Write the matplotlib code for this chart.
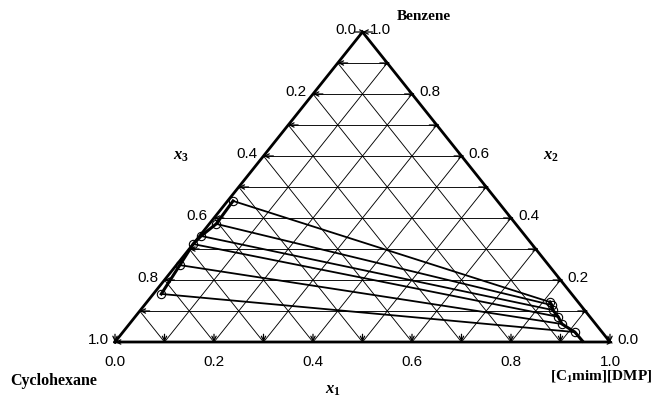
import matplotlib
matplotlib.use("Agg")
import matplotlib.pyplot as plt
import numpy as np

plt.rcParams['mathtext.fontset'] = 'custom'
plt.rcParams['mathtext.rm'] = 'Liberation Serif:bold'
plt.rcParams['mathtext.it'] = 'Liberation Serif:italic:bold'
plt.rcParams['mathtext.bf'] = 'Liberation Serif:bold'

# Tie-line end compositions (x1 = [C1mim][DMP], x2 = benzene)
raff_x1 = [0.011, 0.014, 0.003, 0.000, 0.007, 0.016]
raff_x2 = [0.455, 0.381, 0.342, 0.316, 0.248, 0.155]
ext_x1 = [0.814, 0.823, 0.833, 0.855, 0.874, 0.913]
ext_x2 = [0.129, 0.119, 0.103, 0.081, 0.058, 0.032]

# Extract-side phase boundary continues down to the binary axis
ext_curve_x1 = ext_x1 + [0.943]
ext_curve_x2 = ext_x2 + [0.003]

tick_values = [0.0, 0.2, 0.4, 0.6, 0.8, 1.0]
tick_labels = ["0.0", "0.2", "0.4", "0.6", "0.8", "1.0"]


def tern(x1, x2):
    x1 = np.asarray(x1, dtype=float)
    x2 = np.asarray(x2, dtype=float)
    return x1 + 0.5 * x2, x2


fig = plt.figure(figsize=(6.54, 4.0), dpi=100)
ax = fig.add_axes([0, 0, 1, 1])
ax.set_xlim(-115 / 495, (654 - 115) / 495)
ax.set_ylim(-58 / 310, (400 - 58) / 310)
ax.axis('off')

# Grid every 0.1 in the three composition directions
for k in range(1, 10):
    v = k / 10
    for a, b in (((0, v), (1 - v, v)), ((v, 0), (v, 1 - v)), ((1 - v, 0), (0, 1 - v))):
        X, Y = tern([a[0], b[0]], [a[1], b[1]])
        ax.plot(X, Y, color='black', lw=0.65, zorder=1)

# Triangle edges
X, Y = tern([0, 1, 0, 0], [0, 0, 1, 0])
ax.plot(X, Y, color='black', lw=2.0, solid_joinstyle='miter', zorder=3)

# Arrow-shaped ticks
arrow = dict(arrowstyle='->, head_length=0.45, head_width=0.22', color='black',
             lw=0.9, mutation_scale=7, shrinkA=0, shrinkB=0)
for k in range(0, 11):
    v = k / 10
    # left edge, along the horizontal lines
    end = tern(0, v)
    start = tern(0.02, v)
    ax.annotate('', xy=(float(end[0]), float(end[1])), xytext=(float(start[0]), float(start[1])),
                arrowprops=arrow, zorder=4)
    # bottom edge, pointing down
    bx, by = tern(v, 0)
    ax.annotate('', xy=(float(bx), 0.0), xytext=(float(bx), 0.025),
                arrowprops=arrow, zorder=4)
    # right edge, pointing outward
    rx, ry = tern(1 - v, v)
    ax.annotate('', xy=(float(rx) + 0.006, float(ry)), xytext=(float(rx) - 0.015, float(ry)),
                arrowprops=arrow, zorder=4)

# Tick labels
tick_font = dict(family='Liberation Sans', fontsize=11, color='black')
for v, lab in zip(tick_values, tick_labels):
    bx, by = tern(v, 0)
    ax.text(float(bx), by - 0.065, lab, ha='center', va='center', **tick_font)
for v, lab in zip(tick_values, tick_labels):
    # left axis: x3, 0 at top
    lx, ly = tern(0, 1 - v)
    ax.text(float(lx) - 0.013, float(ly) + 0.006, lab, ha='right', va='center', **tick_font)
    # right axis: x2, 0 at bottom
    rx, ry = tern(1 - v, v)
    ax.text(float(rx) + 0.014, float(ry) + 0.006, lab, ha='left', va='center', **tick_font)

# Binodal branches
X, Y = tern(raff_x1, raff_x2)
ax.plot(X, Y, color='black', lw=2.2, zorder=5)
X, Y = tern(ext_curve_x1, ext_curve_x2)
ax.plot(X, Y, color='black', lw=2.2, zorder=5)

# Tie lines
for a1, a2, b1, b2 in zip(raff_x1, raff_x2, ext_x1, ext_x2):
    X, Y = tern([a1, b1], [a2, b2])
    ax.plot(X, Y, color='black', lw=1.3, zorder=6)
    ax.plot(X, Y, ls='none', marker='o', ms=6, mfc='none', mec='black', mew=0.8, zorder=7)

# Component and axis names
name_font = dict(family='Liberation Serif', fontweight='bold', fontsize=11, color='black')
ax.text((397 - 115) / 495, (400 - 17 - 58) / 310, 'Benzene', ha='left', va='center', **name_font)
ax.text((10 - 115) / 495, (400 - 381 - 58) / 310, 'Cyclohexane', ha='left', va='center',
        family='Liberation Serif', fontweight='bold', fontsize=11.5, color='black')
ax.text((652 - 115) / 495, (400 - 376 - 58) / 310, r'[C$_{1}$mim][DMP]', ha='right', va='center', **name_font)
ax.text((333 - 115) / 495, (400 - 389 - 58) / 310, r'$x_1$', ha='center', va='center', fontsize=12)
ax.text((551 - 115) / 495, (400 - 155 - 58) / 310, r'$x_2$', ha='center', va='center', fontsize=12)
ax.text((181 - 115) / 495, (400 - 155 - 58) / 310, r'$x_3$', ha='center', va='center', fontsize=12)

fig.savefig('out.png', dpi=100)
